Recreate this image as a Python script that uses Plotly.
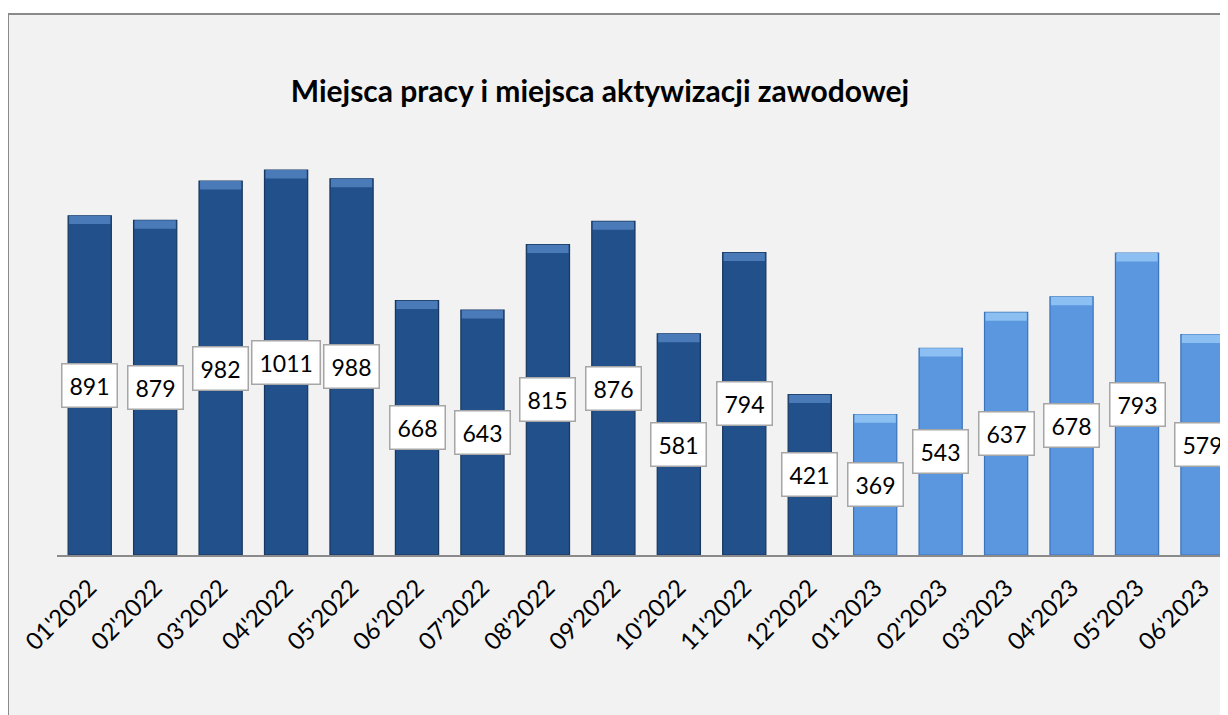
import plotly.graph_objects as go

months = ["01'2022", "02'2022", "03'2022", "04'2022", "05'2022", "06'2022",
          "07'2022", "08'2022", "09'2022", "10'2022", "11'2022", "12'2022",
          "01'2023", "02'2023", "03'2023", "04'2023", "05'2023", "06'2023"]
values = [891, 879, 982, 1011, 988, 668, 643, 815, 876, 581, 794, 421,
          369, 543, 637, 678, 793, 579]
title_text = "Miejsca pracy i miejsca aktywizacji zawodowej"

DARK, DARK_EDGE, DARK_TOP = "#22508a", "#17375f", "#4a7ab8"
LIGHT, LIGHT_EDGE, LIGHT_TOP = "#5a97de", "#3c74bb", "#8cbff2"

is2023 = [m.endswith("2023") for m in months]
fill = [LIGHT if f else DARK for f in is2023]
edge = [LIGHT_EDGE if f else DARK_EDGE for f in is2023]
topc = [LIGHT_TOP if f else DARK_TOP for f in is2023]

FONT = "Lato"
# page body has an 8px margin, so the figure is sized to fit the window
W, H = 1220, 707
L, R, T, B = 49, 0, 52, 160
YMAX = 1300
BEVEL = 22  # bevel band thickness in data units

fig = go.Figure()
fig.add_trace(go.Bar(
    x=months, y=values, width=0.66,
    marker=dict(color=fill, line=dict(color=edge, width=1.2)),
    hoverinfo="x+y", showlegend=False,
))
fig.add_trace(go.Bar(
    x=months, y=[BEVEL] * len(values), base=[v - BEVEL for v in values], width=0.63,
    marker=dict(color=topc, line=dict(width=0)),
    hoverinfo="skip", showlegend=False,
))

for m, v in zip(months, values):
    fig.add_annotation(
        x=m, y=v / 2, text=str(v), showarrow=False,
        font=dict(family=FONT, size=23, color="#000000"),
        bgcolor="#ffffff", bordercolor="#a6a6a6", borderwidth=1.5, borderpad=7,
    )

pw = W - L - R
ph = H - T - B
fig.add_shape(
    type="rect", xref="paper", yref="paper",
    x0=(0 - L) / pw, x1=1.2, y0=-0.6, y1=(H - B - 6) / ph,
    fillcolor="#f2f2f2", line=dict(color="#8a8a8a", width=2), layer="below",
)

fig.update_layout(
    width=W, height=H,
    margin=dict(l=L, r=R, t=T, b=B),
    paper_bgcolor="#ffffff", plot_bgcolor="rgba(0,0,0,0)",
    barmode="overlay",
    title=dict(text="<b>" + title_text + "</b>", x=592 / W, xref="container", xanchor="center",
               y=1 - 83 / H, yref="container", yanchor="middle",
               font=dict(family=FONT, size=30, color="#000000")),
    font=dict(family=FONT),
    xaxis=dict(type="category", range=[-0.5, 17.39], tickangle=-45,
               tickfont=dict(family=FONT, size=24, color="#000000"),
               showline=True, linecolor="#8a8a8a", linewidth=2,
               ticks="outside", ticklen=7, tickcolor="rgba(0,0,0,0)",
               showgrid=False, zeroline=False),
    yaxis=dict(range=[0, YMAX], visible=False, showgrid=False, zeroline=False),
)

fig.write_html("out.html")
